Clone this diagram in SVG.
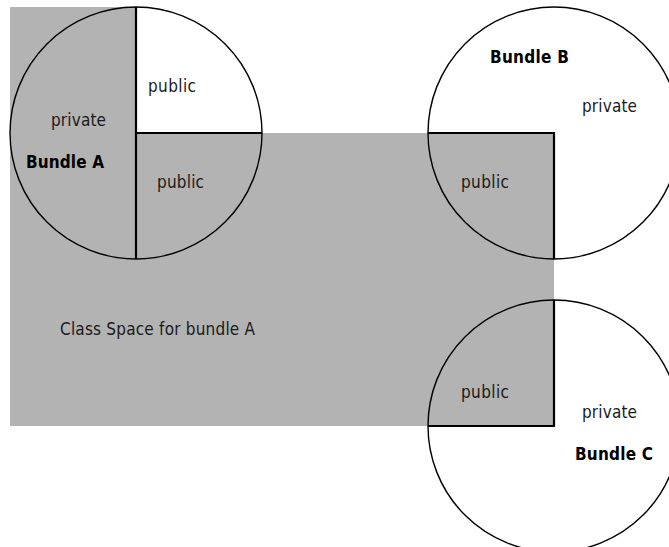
<svg xmlns="http://www.w3.org/2000/svg" width="669" height="547" viewBox="0 0 669 547">
<style>
.ring{fill:none;stroke:#000;stroke-width:1.4}
.div{fill:none;stroke:#000;stroke-width:2.2}
.t{font-family:"DejaVu Sans Condensed","DejaVu Sans",sans-serif;font-stretch:condensed;font-size:17px;fill:#1a1a1a}
.b{font-family:"DejaVu Sans Condensed","DejaVu Sans",sans-serif;font-stretch:condensed;font-size:17px;font-weight:bold;fill:#000}
</style>
<rect width="669" height="547" fill="#fff"/>
<g id="class-space">
<path d="M10 7H136V133H554V426H10Z" fill="#b3b3b3"/>
<text class="t" x="60" y="335" textLength="195">Class Space for bundle A</text>
</g>
<g id="bundle-a">
<circle class="ring" cx="136" cy="133" r="126"/>
<path class="div" d="M136 7V259M136 133H262"/>
<text class="t" x="148" y="92" textLength="48">public</text>
<text class="t" x="51" y="126" textLength="55">private</text>
<text class="b" x="26" y="168" textLength="78">Bundle A</text>
<text class="t" x="157" y="188" textLength="47">public</text>
</g>
<g id="bundle-b">
<circle class="ring" cx="554" cy="133" r="126"/>
<path class="div" d="M428 133H554V259"/>
<text class="b" x="490" y="63" textLength="79">Bundle B</text>
<text class="t" x="582" y="112" textLength="55">private</text>
<text class="t" x="461" y="188" textLength="48">public</text>
</g>
<g id="bundle-c">
<circle class="ring" cx="554" cy="426" r="126"/>
<path class="div" d="M554 300V426H428"/>
<text class="t" x="461" y="398" textLength="48">public</text>
<text class="t" x="582" y="418" textLength="55">private</text>
<text class="b" x="575" y="460" textLength="78">Bundle C</text>
</g>
</svg>
